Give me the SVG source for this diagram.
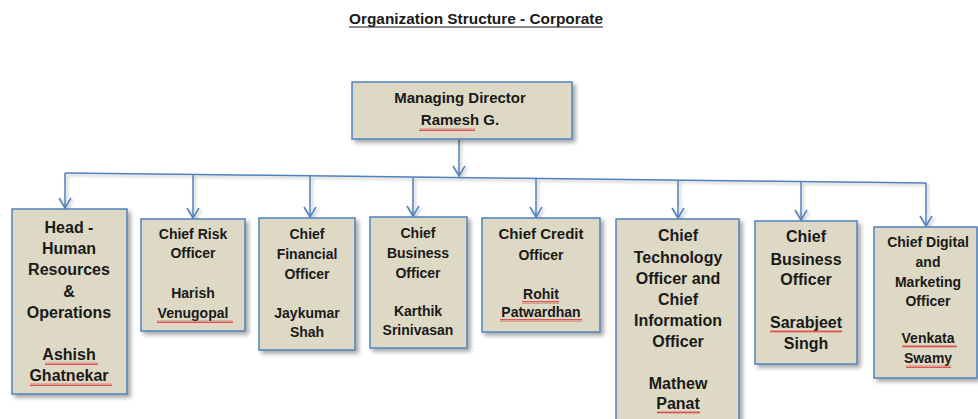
<svg xmlns="http://www.w3.org/2000/svg" width="978" height="419" viewBox="0 0 978 419">
<defs>
<style>
.box{fill:#DDD9C4;stroke:#4F81BD;stroke-width:1.5;filter:url(#sh)}
.t{font-family:"Liberation Sans",Arial,sans-serif;font-weight:bold;fill:#1a1a1a;text-anchor:middle}
.f16{font-size:16px}.f15{font-size:15px}.f14{font-size:14px}
.con{fill:none;stroke:#4F81BD;stroke-width:1.5}
.sq{fill:url(#wave)}
</style>
<filter id="sh" x="-10%" y="-10%" width="130%" height="130%">
<feDropShadow dx="3" dy="3" stdDeviation="2" flood-color="#000" flood-opacity="0.35"/>
</filter>
<filter id="sh2" filterUnits="userSpaceOnUse" x="0" y="120" width="978" height="140">
<feDropShadow dx="2" dy="2" stdDeviation="1.5" flood-color="#000" flood-opacity="0.25"/>
</filter>
<marker id="arr" viewBox="0 0 12 14" refX="11" refY="7" markerWidth="12" markerHeight="14" markerUnits="userSpaceOnUse" orient="auto" overflow="visible">
<path d="M1,1 L11,7 L1,13" fill="none" stroke="#4F81BD" stroke-width="1.5"/>
</marker>
<pattern id="wave" width="4" height="3" patternUnits="userSpaceOnUse">
<path d="M0,2.5 L1,0.5 L2,2.5 L3,0.5 L4,2.5" fill="none" stroke="#E03030" stroke-width="0.8"/>
</pattern>
</defs>
<rect width="978" height="419" fill="#fff"/>
<g id="title">
<text x="476" y="24" class="t" font-size="14.5" textLength="254" lengthAdjust="spacingAndGlyphs">Organization Structure - Corporate</text>
<line x1="349" y1="27" x2="603" y2="27" stroke="#1a1a1a" stroke-width="1.2"/>
</g>
<g id="connectors" filter="url(#sh2)">
<line class="con" x1="459" y1="139" x2="459" y2="176" marker-end="url(#arr)"/>
<line class="con" x1="65" y1="173" x2="926" y2="183"/>
<line class="con" x1="65" y1="173" x2="65" y2="208" marker-end="url(#arr)"/>
<line class="con" x1="193" y1="174.5" x2="193" y2="218" marker-end="url(#arr)"/>
<line class="con" x1="310" y1="175.8" x2="310" y2="217" marker-end="url(#arr)"/>
<line class="con" x1="413" y1="177" x2="413" y2="216" marker-end="url(#arr)"/>
<line class="con" x1="536" y1="178.5" x2="536" y2="217" marker-end="url(#arr)"/>
<line class="con" x1="678" y1="180.1" x2="678" y2="218" marker-end="url(#arr)"/>
<line class="con" x1="801" y1="181.5" x2="801" y2="220" marker-end="url(#arr)"/>
<line class="con" x1="926" y1="183" x2="926" y2="226" marker-end="url(#arr)"/>
</g>
<g id="md">
<rect class="box" x="352" y="82" width="220" height="57"/>
<text class="t f15" x="460" y="103">Managing Director</text>
<text class="t f15" x="460" y="125">Ramesh G.</text>
<rect class="sq" x="419" y="128" width="56" height="3"/>
</g>
<g id="hr">
<rect class="box" x="12" y="209" width="115" height="185"/>
<text class="t f16" x="69" y="233">Head -</text>
<text class="t f16" x="69" y="254">Human</text>
<text class="t f16" x="69" y="275">Resources</text>
<text class="t f16" x="69" y="297">&amp;</text>
<text class="t f16" x="69" y="318">Operations</text>
<text class="t f16" x="69" y="360">Ashish</text>
<text class="t f16" x="69" y="381">Ghatnekar</text>
<rect class="sq" x="45" y="362" width="53" height="3"/>
<rect class="sq" x="30" y="383" width="82" height="3"/>
</g>
<g id="risk">
<rect class="box" x="141" y="219" width="104" height="112"/>
<text class="t f14" x="193" y="239">Chief Risk</text>
<text class="t f14" x="193" y="258">Officer</text>
<text class="t f14" x="193" y="298">Harish</text>
<text class="t f14" x="193" y="318">Venugopal</text>
<rect class="sq" x="157" y="320" width="76" height="3"/>
</g>
<g id="cfo">
<rect class="box" x="259" y="218" width="96" height="132"/>
<text class="t f14" x="307" y="239">Chief</text>
<text class="t f14" x="307" y="259">Financial</text>
<text class="t f14" x="307" y="279">Officer</text>
<text class="t f14" x="307" y="318">Jaykumar</text>
<text class="t f14" x="307" y="337">Shah</text>
</g>
<g id="cbo1">
<rect class="box" x="370" y="217" width="97" height="131"/>
<text class="t f14" x="418" y="238">Chief</text>
<text class="t f14" x="418" y="258">Business</text>
<text class="t f14" x="418" y="278">Officer</text>
<text class="t f14" x="418" y="316">Karthik</text>
<text class="t f14" x="418" y="335">Srinivasan</text>
</g>
<g id="cco">
<rect class="box" x="482" y="218" width="118" height="114"/>
<text class="t f15" x="541" y="239">Chief Credit</text>
<text class="t f14" x="541" y="260">Officer</text>
<text class="t f14" x="541" y="299">Rohit</text>
<text class="t f14" x="541" y="317">Patwardhan</text>
<rect class="sq" x="522" y="301" width="37" height="3"/>
<rect class="sq" x="500" y="319" width="82" height="3"/>
</g>
<g id="cto">
<rect class="box" x="616" y="219" width="123" height="205"/>
<text class="t f16" x="678" y="241">Chief</text>
<text class="t f16" x="678" y="263">Technology</text>
<text class="t f16" x="678" y="284">Officer and</text>
<text class="t f16" x="678" y="305">Chief</text>
<text class="t f16" x="678" y="326">Information</text>
<text class="t f16" x="678" y="347">Officer</text>
<text class="t f16" x="678" y="389">Mathew</text>
<text class="t f16" x="678" y="409">Panat</text>
<rect class="sq" x="657" y="411" width="43" height="3"/>
</g>
<g id="cbo2">
<rect class="box" x="755" y="221" width="102" height="143"/>
<text class="t f16" x="806" y="242">Chief</text>
<text class="t f16" x="806" y="265">Business</text>
<text class="t f16" x="806" y="285">Officer</text>
<text class="t f16" x="806" y="328">Sarabjeet</text>
<text class="t f16" x="806" y="349">Singh</text>
<rect class="sq" x="770" y="330" width="72" height="3"/>
</g>
<g id="cdmo">
<rect class="box" x="874" y="227" width="103" height="151"/>
<text class="t f14" x="928" y="247">Chief Digital</text>
<text class="t f14" x="928" y="267">and</text>
<text class="t f14" x="928" y="287">Marketing</text>
<text class="t f14" x="928" y="306">Officer</text>
<text class="t f14" x="928" y="343">Venkata</text>
<text class="t f14" x="928" y="363">Swamy</text>
<rect class="sq" x="902" y="345" width="55" height="3"/>
<rect class="sq" x="906" y="365" width="45" height="3"/>
</g>
</svg>
